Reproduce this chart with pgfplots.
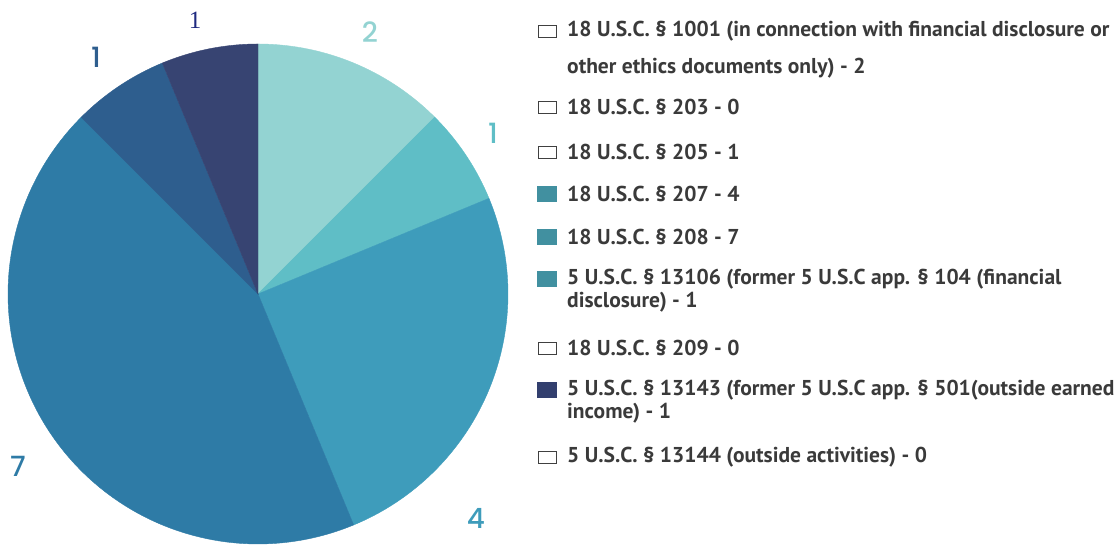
\documentclass[border=0pt]{standalone}
\usepackage{fontspec}
\setmainfont{PT Sans}
\newfontfamily\labfont{Poppins Medium}
\newfontfamily\serfont{Liberation Serif}
\usepackage{pgfplots}
\pgfplotsset{compat=1.18}
\definecolor{cA}{HTML}{93D3D2}
\definecolor{cB}{HTML}{5FBEC6}
\definecolor{cC}{HTML}{3E9CBB}
\definecolor{cD}{HTML}{2E7BA6}
\definecolor{cE}{HTML}{2E5E8E}
\definecolor{cF}{HTML}{374472}
\definecolor{legteal}{HTML}{4190A0}
\definecolor{legnavy}{HTML}{323F6E}
\definecolor{txt}{HTML}{3A3A3A}
\definecolor{topone}{HTML}{1F2A80}
% slice values (clockwise from top)
\def\vA{2}\def\vB{1}\def\vC{4}\def\vD{7}\def\vE{1}\def\vF{1}
\pgfmathsetmacro\tot{\vA+\vB+\vC+\vD+\vE+\vF}
\pgfmathsetmacro\aA{90}
\pgfmathsetmacro\aB{\aA-360*\vA/\tot}
\pgfmathsetmacro\aC{\aB-360*\vB/\tot}
\pgfmathsetmacro\aD{\aC-360*\vC/\tot}
\pgfmathsetmacro\aE{\aD-360*\vD/\tot}
\pgfmathsetmacro\aF{\aE-360*\vE/\tot}
\pgfmathsetmacro\aG{\aF-360*\vF/\tot}
\begin{document}
\begin{tikzpicture}[x=1bp,y=1bp]
\path[use as bounding box] (0,0) rectangle (1114,545);
\begin{axis}[
  at={(8bp,1bp)}, anchor=south west,
  width=500bp, height=500bp, scale only axis,
  xmin=-1, xmax=1, ymin=-1, ymax=1,
  hide axis, clip=false,
]
\addplot[fill=cA, draw=cA, domain=\aA:\aB, samples=60, variable=\t] ({cos(\t)},{sin(\t)}) -- (0,0) -- cycle;
\addplot[fill=cB, draw=cB, domain=\aB:\aC, samples=40, variable=\t] ({cos(\t)},{sin(\t)}) -- (0,0) -- cycle;
\addplot[fill=cC, draw=cC, domain=\aC:\aD, samples=100, variable=\t] ({cos(\t)},{sin(\t)}) -- (0,0) -- cycle;
\addplot[fill=cD, draw=cD, domain=\aD:\aE, samples=150, variable=\t] ({cos(\t)},{sin(\t)}) -- (0,0) -- cycle;
\addplot[fill=cE, draw=cE, domain=\aE:\aF, samples=40, variable=\t] ({cos(\t)},{sin(\t)}) -- (0,0) -- cycle;
\addplot[fill=cF, draw=cF, domain=\aF:\aG, samples=40, variable=\t] ({cos(\t)},{sin(\t)}) -- (0,0) -- cycle;
\tikzset{pl/.style={font=\labfont\fontsize{28}{28}\selectfont}}
\node[pl, text=cA] at (axis cs:0.448,1.048) {\vA};
\node[pl, text=cB] at (axis cs:0.94,0.644) {\vB};
\node[pl, text=cC] at (axis cs:0.872,-0.896) {\vC};
\node[pl, text=cD] at (axis cs:-0.96,-0.688) {\vD};
\node[pl, text=cE] at (axis cs:-0.648,0.948) {\vE};
\node[text=topone, font=\serfont\fontsize{25}{25}\selectfont] at (axis cs:-0.252,1.096) {\vF};
\end{axis}
% legend
\tikzset{lt/.style={anchor=west, inner sep=0pt, text=txt, font=\bfseries\fontsize{21.6}{22}\selectfont},
         eb/.style={draw=black!75, fill=white, line width=0.6bp}}
\def\lx{567}
\newcommand\emptybox[1]{\draw[eb] (538,545-#1-6) rectangle (556,545-#1+6);}
\newcommand\fillbox[2]{\fill[#1] (537,545-#2-8) rectangle (557,545-#2+8);}
\emptybox{31}
\node[lt] at (\lx,545-31) {18 U.S.C. § 1001 (in connection with financial disclosure or};
\node[lt] at (\lx,545-68) {other ethics documents only) - 2};
\emptybox{107}
\node[lt] at (\lx,545-107) {18 U.S.C. § 203 - 0};
\emptybox{152}
\node[lt] at (\lx,545-152) {18 U.S.C. § 205 - 1};
\fillbox{legteal}{194}
\node[lt] at (\lx,545-194) {18 U.S.C. § 207 - 4};
\fillbox{legteal}{237}
\node[lt] at (\lx,545-237) {18 U.S.C. § 208 - 7};
\fillbox{legteal}{279}
\node[lt] at (\lx,545-279) {5 U.S.C. § 13106 (former 5 U.S.C app. § 104 (financial};
\node[lt] at (\lx,545-302) {disclosure) - 1};
\emptybox{348}
\node[lt] at (\lx,545-348) {18 U.S.C. § 209 - 0};
\fillbox{legnavy}{390}
\node[lt] at (\lx,545-390) {5 U.S.C. § 13143 (former 5 U.S.C app. § 501(outside earned};
\node[lt] at (\lx,545-413) {income) - 1};
\emptybox{457}
\node[lt] at (\lx,545-457) {5 U.S.C. § 13144 (outside activities) - 0};
\end{tikzpicture}
\end{document}
